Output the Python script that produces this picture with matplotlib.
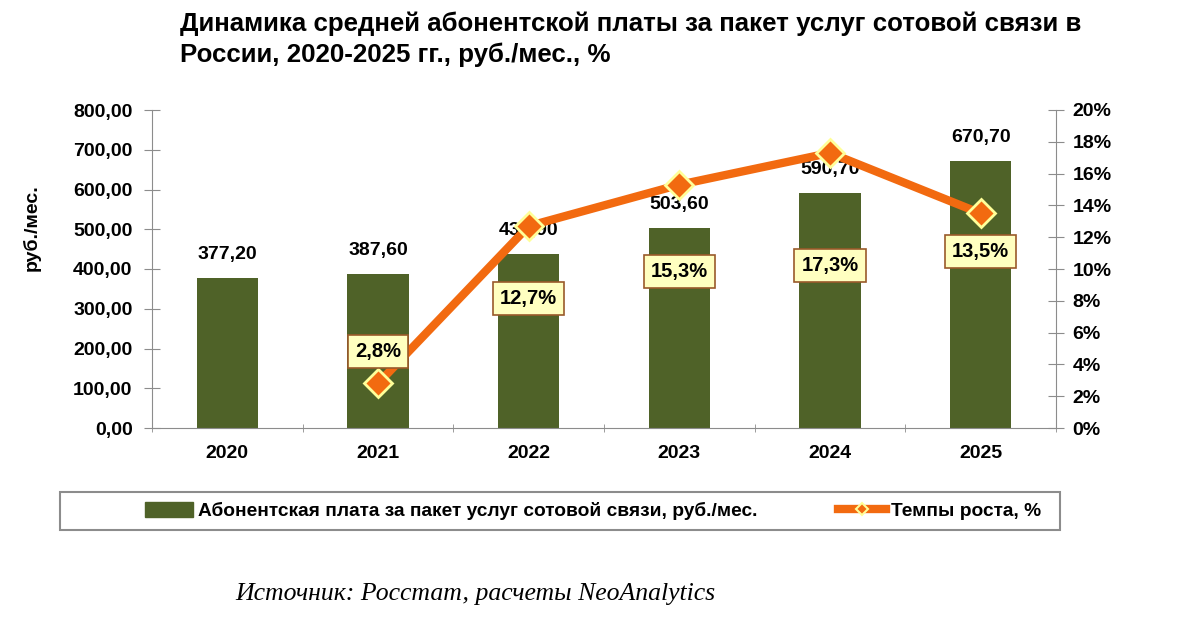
import matplotlib
matplotlib.use("Agg")
import matplotlib.pyplot as plt
from matplotlib.lines import Line2D
from matplotlib.patches import Patch, Rectangle

years = ["2020", "2021", "2022", "2023", "2024", "2025"]
fee = [377.20, 387.60, 436.90, 503.60, 590.70, 670.70]
growth_years = ["2021", "2022", "2023", "2024", "2025"]
growth = [2.8, 12.7, 15.3, 17.3, 13.5]
left_ticks = [0, 100, 200, 300, 400, 500, 600, 700, 800]
right_ticks = [0, 2, 4, 6, 8, 10, 12, 14, 16, 18, 20]

title = "Динамика средней абонентской платы за пакет услуг сотовой связи в\nРоссии, 2020-2025 гг., руб./мес., %"
bar_name = "Абонентская плата за пакет услуг сотовой связи, руб./мес."
line_name = "Темпы роста, %"
source = "Источник: Росстат, расчеты NeoAnalytics"
ylabel = "руб./мес."

# label offsets (pixels) for growth labels, relative to the point
label_dy = [32, -72, -87, -113, -38]

BAR = "#4F6228"
ORANGE = "#F26A10"
GRAY = "#8C8C8C"
FONT = "Liberation Sans"

fig = plt.figure(figsize=(12, 6.44), dpi=100)
W, H = 1200, 644
ax = fig.add_axes([152 / W, 1 - 428 / H, (1056 - 152) / W, (428 - 110) / H])
ax2 = ax.twinx()

x = list(range(len(years)))
ax.bar(x, fee, width=0.405, color=BAR, zorder=2)
ax.set_xlim(-0.5, len(years) - 0.5)
ax.set_ylim(0, 800)
ax.set_yticks(left_ticks)
ax.set_yticklabels([f"{v:.2f}".replace(".", ",") for v in left_ticks],
                   fontsize=14, fontweight="bold", family=FONT)
ax.set_xticks(x)
ax.set_xticklabels(years, fontsize=14, fontweight="bold", family=FONT)
ax.tick_params(axis="x", length=0, pad=12)
ax.set_xticks([i + 0.5 for i in range(-1, len(years))], minor=True)
ax.tick_params(axis="x", which="minor", length=6, direction="inout", color=GRAY)
ax.tick_params(axis="y", length=12, direction="inout", color=GRAY, pad=8)

for s in ["top", "right"]:
    ax.spines[s].set_visible(False)
    ax2.spines[s].set_visible(False)
ax2.spines["left"].set_visible(False)
ax2.spines["bottom"].set_visible(False)
ax.spines["left"].set_color(GRAY)
ax.spines["bottom"].set_color(GRAY)
ax2.spines["right"].set_visible(True)
ax2.spines["right"].set_color(GRAY)

for xi, v in zip(x, fee):
    ax.annotate(f"{v:.2f}".replace(".", ","), (xi, v), xytext=(0, 15),
                textcoords="offset pixels", ha="center", va="bottom",
                fontsize=14, fontweight="bold", family=FONT, zorder=5)

gx = [years.index(y) for y in growth_years]
ax2.set_ylim(0, 20)
ax2.set_yticks(right_ticks)
ax2.set_yticklabels([f"{v}%" for v in right_ticks], fontsize=14,
                    fontweight="bold", family=FONT)
ax2.tick_params(axis="y", length=12, direction="inout", color=GRAY, pad=6)
ax2.plot(gx, growth, color=ORANGE, lw=6, marker="D", markersize=14,
         markerfacecolor=ORANGE, markeredgecolor="#FFFF99", markeredgewidth=2,
         zorder=3, solid_capstyle="round")

for xi, v, dy in zip(gx, growth, label_dy):
    ax2.annotate(f"{v:.1f}%".replace(".", ","), (xi, v), xytext=(0, dy),
                 textcoords="offset pixels", ha="center", va="center",
                 fontsize=14.5, fontweight="bold", family=FONT, zorder=6,
                 bbox=dict(boxstyle="square,pad=0.35", fc="#FFFFC0",
                           ec="#9A5A2A", lw=1.2))

fig.text(180 / W, 1 - 12 / H, title, ha="left", va="top", fontsize=18.6,
         fontweight="bold", family=FONT, linespacing=1.32)
fig.text(32 / W, 1 - 228 / H, ylabel, rotation=90, ha="center", va="center",
         fontsize=14, fontweight="bold", family=FONT)

# legend frame
fig.add_artist(Rectangle((60 / W, 1 - 530 / H), 1000 / W, 38 / H,
                         transform=fig.transFigure, fill=False,
                         edgecolor=GRAY, lw=1.5))
handles = [Patch(facecolor=BAR, edgecolor=BAR),
           Line2D([0], [0], color=ORANGE, lw=6, marker="D", markersize=6,
                  markerfacecolor=ORANGE, markeredgecolor="#FFFF99",
                  markeredgewidth=1.5)]
leg = fig.legend(handles, [bar_name, line_name], loc="center",
                 bbox_to_anchor=(593 / W, 1 - 511 / H), ncol=2,
                 prop=dict(family=FONT, weight="bold", size=13.8),
                 frameon=False, handlelength=2.5, handletextpad=0.25,
                 columnspacing=4.2, borderpad=0.3, handleheight=0.8)

fig.text(475 / W, 1 - 594 / H, source, ha="center", va="center",
         fontsize=18.5, style="italic", family="Liberation Serif")

fig.savefig("out.png", dpi=100, facecolor="white")
